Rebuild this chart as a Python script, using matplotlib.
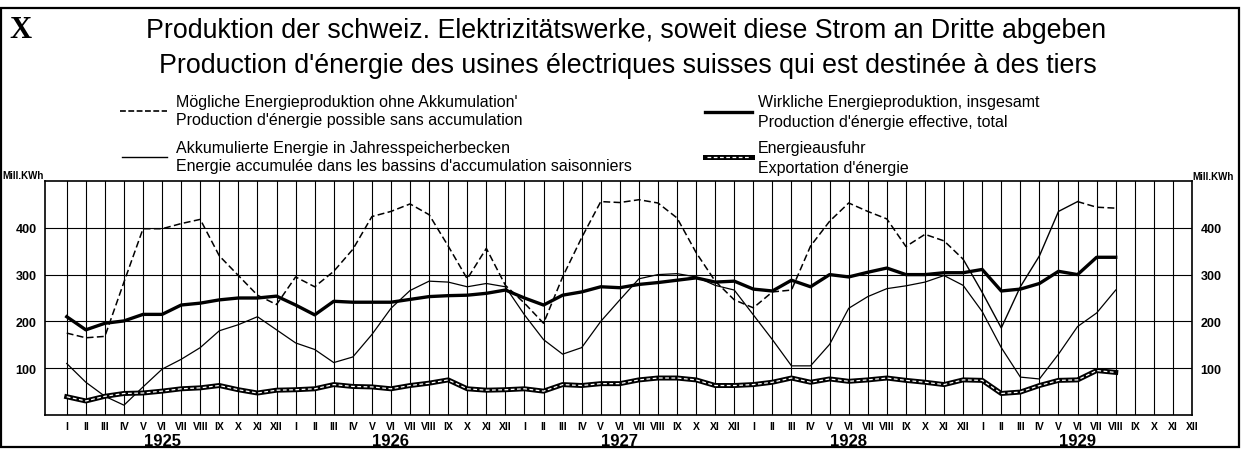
import numpy as np
import matplotlib.pyplot as plt
from matplotlib.patches import Rectangle
from matplotlib.lines import Line2D

W, H = 1253, 452

months = ["I", "II", "III", "IV", "V", "VI", "VII", "VIII", "IX", "X", "XI", "XII"]
years = [1925, 1926, 1927, 1928, 1929]

# Mill. kWh per month, Jan 1925 .. Aug 1929
total = [210, 182, 196, 201, 215, 215, 235, 239, 246, 250, 250, 254,
         235, 214, 243, 241, 241, 241, 247, 253, 255, 256, 260, 267,
         250, 235, 256, 263, 274, 272, 279, 283, 288, 293, 284, 286,
         269, 265, 288, 274, 300, 295, 305, 314, 300, 300, 304, 304,
         311, 265, 269, 281, 307, 300, 337, 337]
possible = [175, 165, 168, 284, 398, 398, 409, 418, 340, 298, 256, 236,
            295, 274, 307, 354, 424, 435, 451, 428, 361, 291, 356, 277,
            239, 196, 295, 379, 456, 454, 460, 453, 421, 347, 286, 246,
            229, 263, 267, 361, 414, 453, 435, 419, 360, 386, 372, 333,
            262, 186, 274, 340, 435, 456, 444, 442]
accum = [110, 70, 40, 21, 60, 98, 119, 144, 180, 193, 210, 182,
         154, 140, 112, 124, 172, 228, 266, 286, 284, 274, 281, 274,
         214, 161, 130, 144, 200, 246, 291, 300, 302, 295, 277, 267,
         214, 161, 105, 105, 151, 228, 253, 270, 276, 284, 298, 277,
         221, 144, 81, 77, 130, 189, 218, 267]
export = [39, 30, 40, 46, 47, 51, 56, 58, 63, 54, 47, 53,
          54, 56, 65, 61, 60, 56, 63, 68, 75, 56, 53, 54,
          56, 51, 65, 63, 67, 67, 75, 79, 79, 75, 63, 63,
          65, 70, 79, 70, 77, 72, 75, 79, 74, 70, 65, 75,
          74, 46, 49, 63, 74, 75, 95, 91]

legend_left = [("Mögliche Energieproduktion ohne Akkumulation'",
                "Production d'énergie possible sans accumulation"),
               ("Akkumulierte Energie in Jahresspeicherbecken",
                "Energie accumulée dans les bassins d'accumulation saisonniers")]
legend_right = [("Wirkliche Energieproduktion, insgesamt",
                 "Production d'énergie effective, total"),
                ("Energieausfuhr", "Exportation d'énergie")]

plt.rcParams['font.family'] = ['Liberation Sans', 'DejaVu Sans']


def fx(x):
    return x / W


def fy(y):
    return 1 - y / H


fig = plt.figure(figsize=(W / 100, H / 100), dpi=100)
fig.patch.set_facecolor('white')

ax = fig.add_axes([fx(45), fy(416), (1192 - 45) / W, (416 - 182) / H])
x = np.arange(len(total))

ax.plot(x, accum, color='black', lw=0.9)
ax.plot(x[:48], possible[:48], color='black', lw=1.1, dashes=(4.5, 2.2))
ax.plot(x[47:54], possible[47:54], color='black', lw=1.0)
ax.plot(x[53:], possible[53:], color='black', lw=1.1, dashes=(4.5, 2.2))
ax.plot(x, total, color='black', lw=2.4)
ax.plot(x, export, color='black', lw=3.6, solid_joinstyle='round')
ax.plot(x, export, color='white', lw=0.9, dashes=(3, 2))

ax.set_xlim(-1.14, 59.0)
ax.set_ylim(0, 500)
ax.set_xticks(np.arange(60))
ax.set_xticklabels(months * 5, fontsize=7.5, fontweight='bold')
ax.set_yticks([100, 200, 300, 400])
ax.set_yticklabels(["100", "200", "300", "400"], fontsize=9, fontweight='bold')
ax.tick_params(length=0, pad=4)
ax.tick_params(axis='y', labelright=True, pad=6)
ax.grid(True, color='black', lw=0.8)
ax.set_axisbelow(True)
for s in ax.spines.values():
    s.set_linewidth(1.2)

for i, yr in enumerate(years):
    ax.text(5 + 12 * i, -0.11, str(yr), transform=ax.get_xaxis_transform(),
            ha='center', va='center', fontsize=12, fontweight='bold')

fig.text(fx(2), fy(176), "Mill.KWh", fontsize=7, fontweight='bold', va='center')
fig.text(fx(1192), fy(177), "Mill.KWh", fontsize=7, fontweight='bold', va='center')

# titles
fig.text(fx(9), fy(30), "X", family='Liberation Serif', fontsize=22,
         fontweight='bold', va='center')
fig.text(fx(626), fy(31), "Produktion der schweiz. Elektrizitätswerke, soweit diese Strom an Dritte abgeben",
         fontsize=19.3, ha='center', va='center')
fig.text(fx(628), fy(66), "Production d'énergie des usines électriques suisses qui est destinée à des tiers",
         fontsize=19.3, ha='center', va='center')

# legend
fs = 11.5
fig.add_artist(Line2D([fx(120), fx(167)], [fy(112), fy(112)], color='black',
                      lw=1.2, dashes=(3.5, 1.5)))
fig.text(fx(176), fy(103), legend_left[0][0], fontsize=fs, va='center')
fig.text(fx(176), fy(121), legend_left[0][1], fontsize=fs, va='center')
fig.add_artist(Line2D([fx(122), fx(167)], [fy(158), fy(158)], color='black', lw=1.0))
fig.text(fx(176), fy(149), legend_left[1][0], fontsize=fs, va='center')
fig.text(fx(176), fy(167), legend_left[1][1], fontsize=fs, va='center')

fig.add_artist(Line2D([fx(705), fx(752)], [fy(113), fy(113)], color='black', lw=2.4))
fig.text(fx(758), fy(103), legend_right[0][0], fontsize=fs, va='center')
fig.text(fx(758), fy(122), legend_right[0][1], fontsize=fs, va='center')
fig.add_artist(Line2D([fx(705), fx(752)], [fy(158), fy(158)], color='black', lw=3.6))
fig.add_artist(Line2D([fx(707), fx(750)], [fy(158), fy(158)], color='white', lw=0.9,
                      dashes=(3, 2)))
fig.text(fx(758), fy(149), legend_right[1][0], fontsize=fs, va='center')
fig.text(fx(758), fy(168), legend_right[1][1], fontsize=fs, va='center')

# outer frame
fig.add_artist(Rectangle((fx(1), fy(448)), fx(1239) - fx(1), fy(9) - fy(448),
                         transform=fig.transFigure, fill=False, ec='black', lw=1.6))

fig.savefig("out.png", dpi=100)
